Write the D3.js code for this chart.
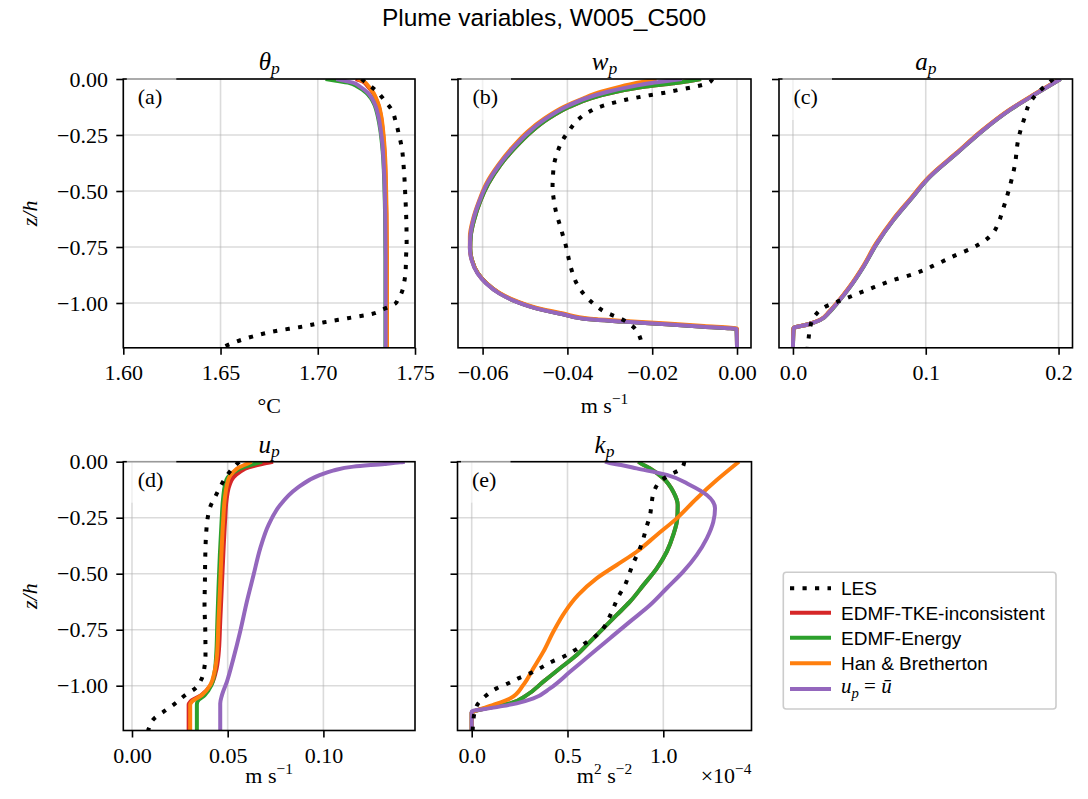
<!DOCTYPE html>
<html><head><meta charset="utf-8">
<script src="https://cdn.jsdelivr.net/npm/d3@7"></script>
<style>body{margin:0;background:#fff} svg{display:block}</style>
</head><body><svg id="c" width="1088" height="799"></svg>
<script>
// ---------- DATA: [value, z/h] ----------
const zTicks = [0, -0.25, -0.5, -0.75, -1.0];
const zTickLabels = ["0.00", "−0.25", "−0.50", "−0.75", "−1.00"];

const thetaTicks = [1.60, 1.65, 1.70, 1.75];
const thetaTickLabels = ["1.60", "1.65", "1.70", "1.75"];
const wTicks = [-0.06, -0.04, -0.02, 0];
const wTickLabels = ["−0.06", "−0.04", "−0.02", "0.00"];
const aTicks = [0, 0.1, 0.2];
const aTickLabels = ["0.0", "0.1", "0.2"];
const uTicks = [0, 0.05, 0.10];
const uTickLabels = ["0.00", "0.05", "0.10"];
const kTicks = [0, 0.5, 1.0];
const kTickLabels = ["0.0", "0.5", "1.0"];

const seriesNames = ["LES", "EDMF-TKE-inconsistent", "EDMF-Energy", "Han & Bretherton", "u_p = ū"];

// theta_p
const thetaLES = [[1.7225,0],[1.7252,-0.019],[1.7300,-0.052],[1.7342,-0.094],[1.7380,-0.138],[1.7401,-0.190],[1.7416,-0.243],[1.7431,-0.302],[1.7443,-0.406],[1.7450,-0.518],[1.7455,-0.622],[1.7457,-0.734],[1.7454,-0.793],[1.7452,-0.853],[1.7445,-0.905],[1.7431,-0.954],[1.7412,-0.985],[1.7399,-1.002],[1.7337,-1.028],[1.7278,-1.049],[1.7154,-1.068],[1.7033,-1.086],[1.6911,-1.107],[1.6784,-1.125],[1.6663,-1.150],[1.6536,-1.188],[1.6505,-1.2]];
const thetaTKE = [[1.7195,0],[1.7228,-0.010],[1.7258,-0.034],[1.7282,-0.060],[1.7298,-0.086],[1.7313,-0.120],[1.7325,-0.168],[1.7334,-0.230],[1.7340,-0.287],[1.7345,-0.360],[1.7348,-0.436],[1.7352,-0.600],[1.7354,-0.800],[1.7354,-1.2]];
const thetaEnergy = [[1.7040,0],[1.7095,-0.008],[1.7155,-0.016],[1.7205,-0.034],[1.7248,-0.060],[1.7274,-0.086],[1.7294,-0.120],[1.7309,-0.168],[1.7322,-0.230],[1.7330,-0.287],[1.7337,-0.360],[1.7341,-0.436],[1.7346,-0.600],[1.7348,-0.800],[1.7348,-1.2]];
const thetaHB = [[1.7205,0],[1.7235,-0.010],[1.7262,-0.034],[1.7285,-0.060],[1.7300,-0.086],[1.7315,-0.120],[1.7327,-0.168],[1.7336,-0.230],[1.7342,-0.287],[1.7347,-0.360],[1.7350,-0.436],[1.7354,-0.600],[1.7356,-0.800],[1.7356,-1.2]];
const thetaUmean = [[1.7095,0],[1.7138,-0.008],[1.7180,-0.016],[1.7217,-0.034],[1.7255,-0.060],[1.7278,-0.086],[1.7297,-0.120],[1.7312,-0.168],[1.7324,-0.230],[1.7332,-0.287],[1.7338,-0.360],[1.7342,-0.436],[1.7347,-0.600],[1.7349,-0.800],[1.7349,-1.2]];

// w_p
const wLES = [[-0.0058,0],[-0.0069,-0.019],[-0.0106,-0.037],[-0.0139,-0.049],[-0.0170,-0.061],[-0.0202,-0.071],[-0.0234,-0.082],[-0.0265,-0.094],[-0.0297,-0.109],[-0.0326,-0.126],[-0.0352,-0.150],[-0.0376,-0.183],[-0.0395,-0.228],[-0.0411,-0.272],[-0.0423,-0.324],[-0.0431,-0.376],[-0.0434,-0.430],[-0.0435,-0.484],[-0.0432,-0.540],[-0.0427,-0.592],[-0.0419,-0.644],[-0.0411,-0.696],[-0.0403,-0.749],[-0.0397,-0.801],[-0.0390,-0.853],[-0.0376,-0.920],[-0.0348,-0.987],[-0.0312,-1.039],[-0.0268,-1.076],[-0.0245,-1.106],[-0.0228,-1.158],[-0.0224,-1.2]];
const wTKE = [[-0.0085,0],[-0.0115,-0.010],[-0.0150,-0.019],[-0.0215,-0.034],[-0.0285,-0.057],[-0.0345,-0.086],[-0.0395,-0.124],[-0.0444,-0.176],[-0.0485,-0.235],[-0.0525,-0.310],[-0.0558,-0.384],[-0.0586,-0.466],[-0.0606,-0.548],[-0.0620,-0.629],[-0.0628,-0.704],[-0.0629,-0.756],[-0.0625,-0.808],[-0.0611,-0.868],[-0.0591,-0.912],[-0.0560,-0.957],[-0.0520,-0.994],[-0.0473,-1.024],[-0.0410,-1.050],[-0.0347,-1.073],[-0.0268,-1.083],[-0.0166,-1.095],[-0.0079,-1.106],[-0.0001,-1.117],[0,-1.2]];
const wEnergy = [[-0.0085,0],[-0.0115,-0.010],[-0.0150,-0.019],[-0.0215,-0.034],[-0.0285,-0.057],[-0.0345,-0.086],[-0.0395,-0.124],[-0.0444,-0.176],[-0.0485,-0.235],[-0.0525,-0.310],[-0.0558,-0.384],[-0.0586,-0.466],[-0.0606,-0.548],[-0.0620,-0.629],[-0.0628,-0.704],[-0.0629,-0.756],[-0.0625,-0.808],[-0.0611,-0.868],[-0.0591,-0.912],[-0.0560,-0.957],[-0.0520,-0.994],[-0.0473,-1.024],[-0.0410,-1.050],[-0.0347,-1.073],[-0.0268,-1.083],[-0.0166,-1.095],[-0.0079,-1.106],[-0.0001,-1.117],[0,-1.2]];
const wHB = [[-0.0190,0],[-0.0215,-0.010],[-0.0240,-0.019],[-0.0275,-0.034],[-0.0320,-0.057],[-0.0362,-0.086],[-0.0408,-0.124],[-0.0454,-0.176],[-0.0494,-0.235],[-0.0532,-0.310],[-0.0563,-0.384],[-0.0591,-0.466],[-0.0609,-0.548],[-0.0623,-0.629],[-0.0630,-0.704],[-0.0630,-0.753],[-0.0626,-0.805],[-0.0612,-0.865],[-0.0592,-0.909],[-0.0561,-0.954],[-0.0521,-0.991],[-0.0474,-1.021],[-0.0410,-1.047],[-0.0346,-1.070],[-0.0267,-1.080],[-0.0165,-1.092],[-0.0078,-1.103],[0,-1.115],[0,-1.2]];
const wUmean = [[-0.0130,0],[-0.0170,-0.010],[-0.0205,-0.019],[-0.0250,-0.034],[-0.0305,-0.057],[-0.0356,-0.086],[-0.0403,-0.124],[-0.0450,-0.176],[-0.0490,-0.235],[-0.0529,-0.310],[-0.0561,-0.384],[-0.0589,-0.466],[-0.0608,-0.548],[-0.0622,-0.629],[-0.0629,-0.704],[-0.0630,-0.756],[-0.0626,-0.808],[-0.0612,-0.868],[-0.0592,-0.912],[-0.0561,-0.957],[-0.0521,-0.994],[-0.0474,-1.024],[-0.0411,-1.050],[-0.0348,-1.073],[-0.0269,-1.083],[-0.0167,-1.095],[-0.0080,-1.106],[-0.0001,-1.117],[0,-1.2]];

// a_p
const aLES = [[0.196,0],[0.190,-0.030],[0.1835,-0.067],[0.178,-0.110],[0.1747,-0.168],[0.1718,-0.220],[0.1696,-0.272],[0.1671,-0.384],[0.1629,-0.488],[0.1576,-0.592],[0.1546,-0.644],[0.1504,-0.689],[0.1433,-0.726],[0.1346,-0.756],[0.1258,-0.778],[0.1095,-0.823],[0.0920,-0.868],[0.0744,-0.900],[0.0569,-0.939],[0.0401,-0.979],[0.0235,-1.019],[0.0168,-1.054],[0.0130,-1.106],[0.0118,-1.158],[0.0110,-1.2]];
const aTKE = [[0.2013,0],[0.1833,-0.064],[0.1632,-0.138],[0.1431,-0.228],[0.1231,-0.332],[0.1030,-0.436],[0.0880,-0.540],[0.0755,-0.629],[0.0630,-0.734],[0.0529,-0.838],[0.0429,-0.927],[0.0329,-1.002],[0.0273,-1.040],[0.0203,-1.076],[0.0118,-1.095],[0.0004,-1.113],[0,-1.2]];
const aEnergy = [[0.2016,0],[0.1836,-0.064],[0.1635,-0.138],[0.1434,-0.228],[0.1234,-0.332],[0.1033,-0.436],[0.0883,-0.540],[0.0758,-0.629],[0.0633,-0.734],[0.0532,-0.838],[0.0432,-0.927],[0.0332,-1.002],[0.0276,-1.040],[0.0206,-1.076],[0.0121,-1.095],[0.0005,-1.113],[0,-1.2]];
const aHB = [[0.2010,0],[0.1830,-0.064],[0.1628,-0.138],[0.1427,-0.228],[0.1227,-0.332],[0.1026,-0.436],[0.0876,-0.540],[0.0751,-0.629],[0.0626,-0.734],[0.0526,-0.838],[0.0426,-0.927],[0.0327,-1.002],[0.0271,-1.040],[0.0201,-1.076],[0.0117,-1.095],[0.0004,-1.113],[0,-1.2]];
const aUmean = [[0.2015,0],[0.1835,-0.064],[0.1634,-0.138],[0.1433,-0.228],[0.1233,-0.332],[0.1032,-0.436],[0.0882,-0.540],[0.0757,-0.629],[0.0632,-0.734],[0.0531,-0.838],[0.0431,-0.927],[0.0331,-1.002],[0.0275,-1.040],[0.0205,-1.076],[0.0120,-1.095],[0.0005,-1.113],[0,-1.2]];

// u_p
const uLES = [[0.0560,0],[0.0525,-0.030],[0.0492,-0.067],[0.0461,-0.112],[0.0435,-0.156],[0.0409,-0.201],[0.0395,-0.253],[0.0388,-0.313],[0.0383,-0.417],[0.0381,-0.536],[0.0379,-0.640],[0.0383,-0.759],[0.0384,-0.863],[0.0379,-0.915],[0.0365,-0.967],[0.0330,-1.012],[0.0278,-1.042],[0.0226,-1.079],[0.0165,-1.116],[0.0113,-1.149],[0.0087,-1.193],[0.0083,-1.2]];
const uTKE = [[0.0737,0],[0.0680,-0.010],[0.0610,-0.025],[0.0565,-0.045],[0.0530,-0.070],[0.0510,-0.104],[0.0495,-0.164],[0.0486,-0.268],[0.0477,-0.417],[0.0469,-0.565],[0.0461,-0.714],[0.0452,-0.863],[0.0438,-0.938],[0.0412,-0.997],[0.0362,-1.042],[0.0305,-1.071],[0.0296,-1.085],[0.0296,-1.2]];
const uEnergy = [[0.0680,0],[0.0640,-0.010],[0.0580,-0.025],[0.0535,-0.045],[0.0500,-0.070],[0.0486,-0.104],[0.0476,-0.164],[0.0468,-0.268],[0.0459,-0.417],[0.0452,-0.565],[0.0446,-0.714],[0.0440,-0.863],[0.0432,-0.938],[0.0415,-0.997],[0.0380,-1.042],[0.0342,-1.071],[0.0339,-1.085],[0.0339,-1.2]];
const uHB = [[0.0625,0],[0.0600,-0.010],[0.0560,-0.025],[0.0530,-0.045],[0.0508,-0.070],[0.0496,-0.104],[0.0485,-0.164],[0.0476,-0.268],[0.0467,-0.417],[0.0460,-0.565],[0.0452,-0.714],[0.0444,-0.863],[0.0431,-0.938],[0.0409,-0.997],[0.0365,-1.042],[0.0313,-1.071],[0.0304,-1.085],[0.0304,-1.2]];
const uUmean = [[0.1425,0],[0.1400,-0.003],[0.1320,-0.010],[0.1157,-0.022],[0.1050,-0.040],[0.0983,-0.059],[0.0861,-0.119],[0.0774,-0.193],[0.0713,-0.283],[0.0670,-0.387],[0.0635,-0.506],[0.0600,-0.625],[0.0565,-0.759],[0.0530,-0.878],[0.0496,-0.982],[0.0470,-1.042],[0.0461,-1.079],[0.0461,-1.2]];

// k_p (x 1e-4)
const kLES = [[1.11,0],[1.096,-0.030],[1.03,-0.060],[0.983,-0.089],[0.951,-0.134],[0.939,-0.186],[0.931,-0.238],[0.913,-0.290],[0.896,-0.342],[0.875,-0.394],[0.847,-0.446],[0.823,-0.498],[0.800,-0.551],[0.765,-0.603],[0.739,-0.655],[0.715,-0.700],[0.687,-0.744],[0.644,-0.781],[0.591,-0.811],[0.539,-0.841],[0.478,-0.871],[0.418,-0.893],[0.356,-0.922],[0.304,-0.945],[0.243,-0.967],[0.191,-0.989],[0.130,-1.012],[0.078,-1.042],[0.034,-1.079],[0.015,-1.120],[0.008,-1.161],[0.005,-1.2]];
const kTKE = [[0.870,0],[0.880,-0.006],[0.931,-0.030],[1.000,-0.074],[1.052,-0.134],[1.075,-0.193],[1.073,-0.253],[1.052,-0.327],[1.018,-0.402],[0.966,-0.476],[0.896,-0.551],[0.826,-0.625],[0.757,-0.684],[0.687,-0.744],[0.617,-0.804],[0.548,-0.863],[0.461,-0.922],[0.374,-0.982],[0.287,-1.042],[0.200,-1.079],[0.113,-1.094],[0.008,-1.116],[0,-1.12],[0,-1.2]];
const kEnergy = [[0.870,0],[0.880,-0.006],[0.931,-0.030],[1.000,-0.074],[1.052,-0.134],[1.075,-0.193],[1.073,-0.253],[1.052,-0.327],[1.018,-0.402],[0.966,-0.476],[0.896,-0.551],[0.826,-0.625],[0.757,-0.684],[0.687,-0.744],[0.617,-0.804],[0.548,-0.863],[0.461,-0.922],[0.374,-0.982],[0.287,-1.042],[0.200,-1.079],[0.113,-1.094],[0.008,-1.116],[0,-1.12],[0,-1.2]];
const kHB = [[1.395,0],[1.279,-0.082],[1.174,-0.164],[1.070,-0.253],[0.966,-0.327],[0.861,-0.402],[0.757,-0.461],[0.652,-0.521],[0.556,-0.595],[0.487,-0.670],[0.426,-0.759],[0.374,-0.848],[0.322,-0.922],[0.269,-0.997],[0.200,-1.057],[0.113,-1.086],[0.008,-1.116],[0,-1.12],[0,-1.2]];
const kUmean = [[0.696,0],[0.720,-0.006],[0.780,-0.015],[0.861,-0.030],[1.018,-0.059],[1.139,-0.104],[1.227,-0.149],[1.270,-0.208],[1.261,-0.268],[1.227,-0.342],[1.174,-0.417],[1.104,-0.491],[1.018,-0.565],[0.931,-0.640],[0.826,-0.714],[0.722,-0.788],[0.617,-0.863],[0.513,-0.938],[0.409,-1.012],[0.322,-1.057],[0.235,-1.079],[0.113,-1.098],[0,-1.116],[0,-1.2]];

// ---------- STYLE / LAYOUT ----------
const SERIF = "'Liberation Serif', 'DejaVu Serif', serif";
const SANS = "'Liberation Sans', Arial, sans-serif";
const colors = ["#000000", "#d62728", "#2ca02c", "#ff7f0e", "#9467bd"];
const rows = [{top: 79, bottom: 347.8}, {top: 461.7, bottom: 730.5}];

const panels = [
  {letter:"(a)", row:0, x0:123.3, x1:415, domain:[1.60,1.75], ticks:thetaTicks, tlab:thetaTickLabels,
   title:[{t:"θ",it:1},{t:"p",it:1,sub:1}], xlabel:[{t:"°C"}], ylab:true,
   data:[thetaLES, thetaTKE, thetaEnergy, thetaHB, thetaUmean]},
  {letter:"(b)", row:0, x0:458, x1:751, domain:[-0.0658,0.0033], ticks:wTicks, tlab:wTickLabels,
   title:[{t:"w",it:1},{t:"p",it:1,sub:1}], xlabel:[{t:"m s"},{t:"−1",sup:1}], ylab:false,
   data:[wLES, wTKE, wEnergy, wHB, wUmean]},
  {letter:"(c)", row:0, x0:779, x1:1072.5, domain:[-0.0105,0.2105], ticks:aTicks, tlab:aTickLabels,
   title:[{t:"a",it:1},{t:"p",it:1,sub:1}], xlabel:null, ylab:false,
   data:[aLES, aTKE, aEnergy, aHB, aUmean]},
  {letter:"(d)", row:1, x0:123.3, x1:415, domain:[-0.00454,0.14786], ticks:uTicks, tlab:uTickLabels,
   title:[{t:"u",it:1},{t:"p",it:1,sub:1}], xlabel:[{t:"m s"},{t:"−1",sup:1}], ylab:true,
   data:[uLES, uTKE, uEnergy, uHB, uUmean]},
  {letter:"(e)", row:1, x0:457.5, x1:751.5, domain:[-0.0741,1.4603], ticks:kTicks, tlab:kTickLabels,
   title:[{t:"k",it:1},{t:"p",it:1,sub:1}], xlabel:[{t:"m"},{t:"2",sup:1},{t:" s"},{t:"−2",sup:1}], ylab:false,
   offset:[{t:"×10"},{t:"−4",sup:1}],
   data:[kLES, kTKE, kEnergy, kHB, kUmean]}
];

const svg = d3.select("#c");
svg.append("rect").attr("width",1088).attr("height",799).attr("fill","#fff");

function rich(textSel, segs, fs, subShift) {
  let shift = 0;
  const ss = subShift === undefined ? 0.22 : subShift;
  segs.forEach(s => {
    const target = s.sup ? -0.42*fs : (s.sub ? ss*fs : 0);
    const ts = textSel.append("tspan").text(s.t)
      .attr("font-size", (s.sup || s.sub) ? fs*0.7 : fs)
      .attr("dy", target - shift);
    if (s.it) ts.attr("font-style", "italic");
    shift = target;
  });
}

// Suptitle
svg.append("text").attr("x", 544).attr("y", 26).attr("text-anchor","middle")
  .attr("font-family", SANS).attr("font-size", 24.5).attr("fill","#000")
  .text("Plume variables, W005_C500");

panels.forEach((p, pi) => {
  const r = rows[p.row];
  const x = d3.scaleLinear().domain(p.domain).range([p.x0, p.x1]);
  const y = d3.scaleLinear().domain([0, -1.2]).range([r.top, r.bottom]);
  const g = svg.append("g");

  // grid
  g.append("g").selectAll("line").data(p.ticks).join("line")
    .attr("x1", d => x(d)).attr("x2", d => x(d)).attr("y1", r.top).attr("y2", r.bottom)
    .attr("stroke", "#b0b0b0").attr("stroke-opacity", 0.45).attr("stroke-width", 1.6);
  g.append("g").selectAll("line").data(zTicks).join("line")
    .attr("y1", d => y(d)).attr("y2", d => y(d)).attr("x1", p.x0).attr("x2", p.x1)
    .attr("stroke", "#b0b0b0").attr("stroke-opacity", 0.45).attr("stroke-width", 1.6);

  // clip
  const cid = "clip" + pi;
  svg.append("clipPath").attr("id", cid).append("rect")
    .attr("x", p.x0).attr("y", r.top).attr("width", p.x1 - p.x0).attr("height", r.bottom - r.top);

  const line = d3.line().x(d => x(d[0])).y(d => y(d[1])).curve(d3.curveMonotoneY);
  const lg = g.append("g").attr("clip-path", `url(#${cid})`);
  [1, 2, 3, 4, 0].forEach(si => {
    const path = lg.append("path").datum(p.data[si]).attr("d", line)
      .attr("fill", "none").attr("stroke", colors[si]).attr("stroke-width", 4);
    if (si === 0) path.attr("stroke-dasharray", "4.2 8.3").attr("stroke-linecap", "butt");
    else path.attr("stroke-linecap", "butt").attr("stroke-linejoin", "round");
  });

  // axes
  const ax = g.append("g").attr("transform", `translate(0,${r.bottom})`)
    .call(d3.axisBottom(x).tickValues(p.ticks).tickFormat((d, i) => p.tlab[i]).tickSize(7).tickPadding(9.5));
  const ay = g.append("g").attr("transform", `translate(${p.x0},0)`)
    .call(d3.axisLeft(y).tickValues(zTicks).tickFormat((d, i) => p.ylab ? zTickLabels[i] : "").tickSize(7).tickPadding(8.3));
  [ax, ay].forEach(a => {
    a.select(".domain").remove();
    a.selectAll(".tick line").attr("stroke", "#000").attr("stroke-width", 1.6);
    a.selectAll(".tick text").attr("font-family", SERIF).attr("font-size", 22).attr("fill", "#000");
  });

  // spines
  g.append("rect").attr("x", p.x0).attr("y", r.top).attr("width", p.x1 - p.x0).attr("height", r.bottom - r.top)
    .attr("fill", "none").attr("stroke", "#000").attr("stroke-width", 1.6);

  // letter box
  g.append("rect").attr("x", p.x0 + 3.5).attr("y", r.top - 4).attr("width", 49.5).attr("height", 45)
    .attr("fill", "#fff").attr("fill-opacity", 0.6);
  g.append("text").attr("x", p.x0 + 14.5).attr("y", r.top + 25)
    .attr("font-family", SERIF).attr("font-size", 22).attr("fill", "#000").text(p.letter);

  // title
  const cx = (p.x0 + p.x1) / 2;
  const tt = g.append("text").attr("x", cx).attr("y", r.top - 9).attr("text-anchor", "middle")
    .attr("font-family", SERIF).attr("fill", "#000");
  rich(tt, p.title, 25, 0.16);

  // xlabel
  if (p.xlabel) {
    const xl = g.append("text").attr("x", cx).attr("y", p.row === 0 ? 413 : 783).attr("text-anchor", "middle")
      .attr("font-family", SERIF).attr("fill", "#000");
    rich(xl, p.xlabel, 22);
  }
  if (p.offset) {
    const ot = g.append("text").attr("x", p.x1).attr("y", 783).attr("text-anchor", "end")
      .attr("font-family", SERIF).attr("fill", "#000");
    rich(ot, p.offset, 22);
  }
  // ylabel
  if (p.ylab) {
    const cy = (r.top + r.bottom) / 2;
    g.append("text").attr("transform", `translate(37,${cy}) rotate(-90)`).attr("text-anchor", "middle")
      .attr("font-family", SERIF).attr("font-style", "italic").attr("font-size", 22).attr("fill", "#000")
      .text("z/h");
  }
});

// ---------- LEGEND ----------
const leg = svg.append("g");
leg.append("rect").attr("x", 783.3).attr("y", 572.3).attr("width", 272.7).attr("height", 136.7)
  .attr("rx", 3).attr("fill", "#fff").attr("fill-opacity", 0.8).attr("stroke", "#cccccc").attr("stroke-width", 1.6);
const legY = [588.3, 612.7, 637.7, 663.3, 689];
seriesNames.forEach((name, i) => {
  const l = leg.append("line").attr("x1", 790).attr("x2", 831).attr("y1", legY[i]).attr("y2", legY[i])
    .attr("stroke", colors[i]).attr("stroke-width", 4);
  if (i === 0) l.attr("stroke-dasharray", "4.2 8.3");
  if (i < 4) {
    leg.append("text").attr("x", 841).attr("y", legY[i] + 6.8).attr("font-family", SANS).attr("font-size", 19)
      .attr("fill", "#000").text(name);
  } else {
    const t = leg.append("text").attr("x", 841).attr("y", legY[i] + 4).attr("font-family", SERIF).attr("fill", "#000");
    rich(t, [{t:"u",it:1},{t:"p",it:1,sub:1},{t:" = "},{t:"ū",it:1}], 21);
  }
});
</script>
</body></html>
